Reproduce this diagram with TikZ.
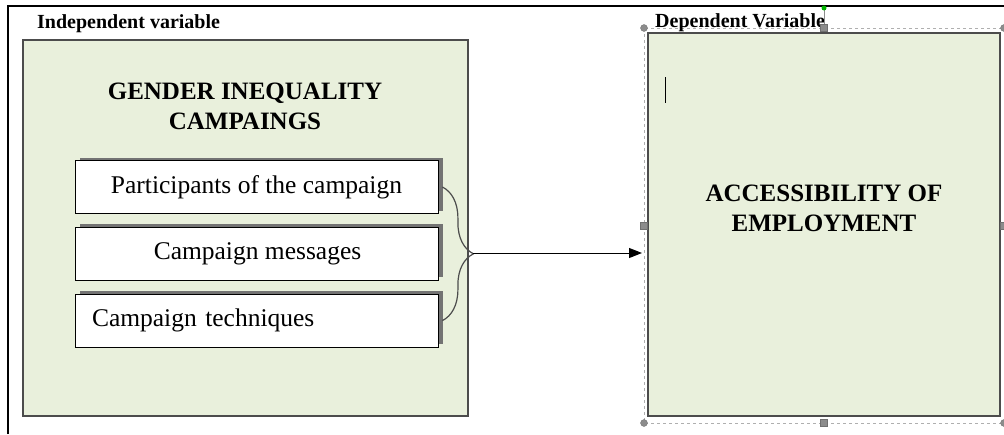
\documentclass[tikz,border=0pt]{standalone}
\usepackage{fontspec}
\setmainfont{Liberation Serif}
\usetikzlibrary{positioning, shadows, arrows.meta, decorations.pathreplacing}
\definecolor{panelgreen}{HTML}{E9F0DC}
\definecolor{handlegray}{HTML}{8C8C8C}
\begin{document}
\begin{tikzpicture}[x = 1pt, y = -1pt,
    panel/.style = {draw = black!70, fill = panelgreen, line width = 1.2pt},
    heading/.style = {font = \fontsize{20}{24}\selectfont\bfseries, inner sep = 0pt, anchor = base west},
    title/.style = {font = \fontsize{25}{30}\selectfont\bfseries, align = center, inner sep = 0pt},
    item/.style = {draw = black, fill = white, line width = 0.8pt, minimum width = 363pt, minimum height = 53pt, inner sep = 0pt,
                   font = \fontsize{25.5}{29}\selectfont, general shadow = {fill = black!55, shadow xshift = 4.5pt, shadow yshift = 3pt}},
    selection/.style = {draw = handlegray!70, dashed, line width = 0.6pt},
    handle/.style = {fill = handlegray, draw = handlegray!80!black, line width = 0.3pt},
    link/.style = {-{Triangle[length = 13pt, width = 10pt]}, line width = 1pt},
    brace/.style = {decorate, decoration = {brace, amplitude = 31pt}, draw = black!70, line width = 1.2pt}]
  \useasboundingbox (0,0) rectangle (1004,434);
  \draw[line width = 2pt] (8,434) -- (8,6) -- (1004,6);

  \filldraw[panel] (23,40) rectangle (468,416);
  \node[heading] (ivlabel) at (37,28) {Independent variable};
  \node[title] (ivtitle) at (245,106) {GENDER INEQUALITY\\CAMPAINGS};

  \node[item] (parts) at (256.5,187) {Participants of the campaign};
  \node[item, below = 13pt of parts] (msgs) {\hspace*{2pt}Campaign messages};
  \node[item, below = 13pt of msgs, text width = 329pt, inner xsep = 17pt, align = left] (techs) {Campaign techniques};

  \draw[selection] (644,28) rectangle (1004,423);
  \filldraw[panel] (648,33) rectangle (1000,416);
  \node[heading] (dvlabel) at (655,27) {Dependent Variable};
  \node[title] (dvtitle) at (824,208) {ACCESSIBILITY OF\\EMPLOYMENT};
  \draw[line width = 0.8pt] (665,77) -- (665,103);

  \draw[brace] ([xshift = 4pt]parts.east) -- ([xshift = 4pt]techs.east);
  \coordinate (tip) at (473,253);
  \coordinate (target) at (642,253);
  \draw[link] (tip) -- (target);

  \draw[handlegray] (824,9) -- (824,28);
  \fill[green!70!black] (824,8) circle (2.5);
  \foreach \hx/\hy in {644/28, 1004/28, 644/423, 1004/423}
    \filldraw[handle] (\hx,\hy) circle (3.5);
  \foreach \hx/\hy in {824/28, 824/423, 644/226, 1004/226}
    \filldraw[handle] (\hx-3.5,\hy-3.5) rectangle (\hx+3.5,\hy+3.5);
\end{tikzpicture}
\end{document}
